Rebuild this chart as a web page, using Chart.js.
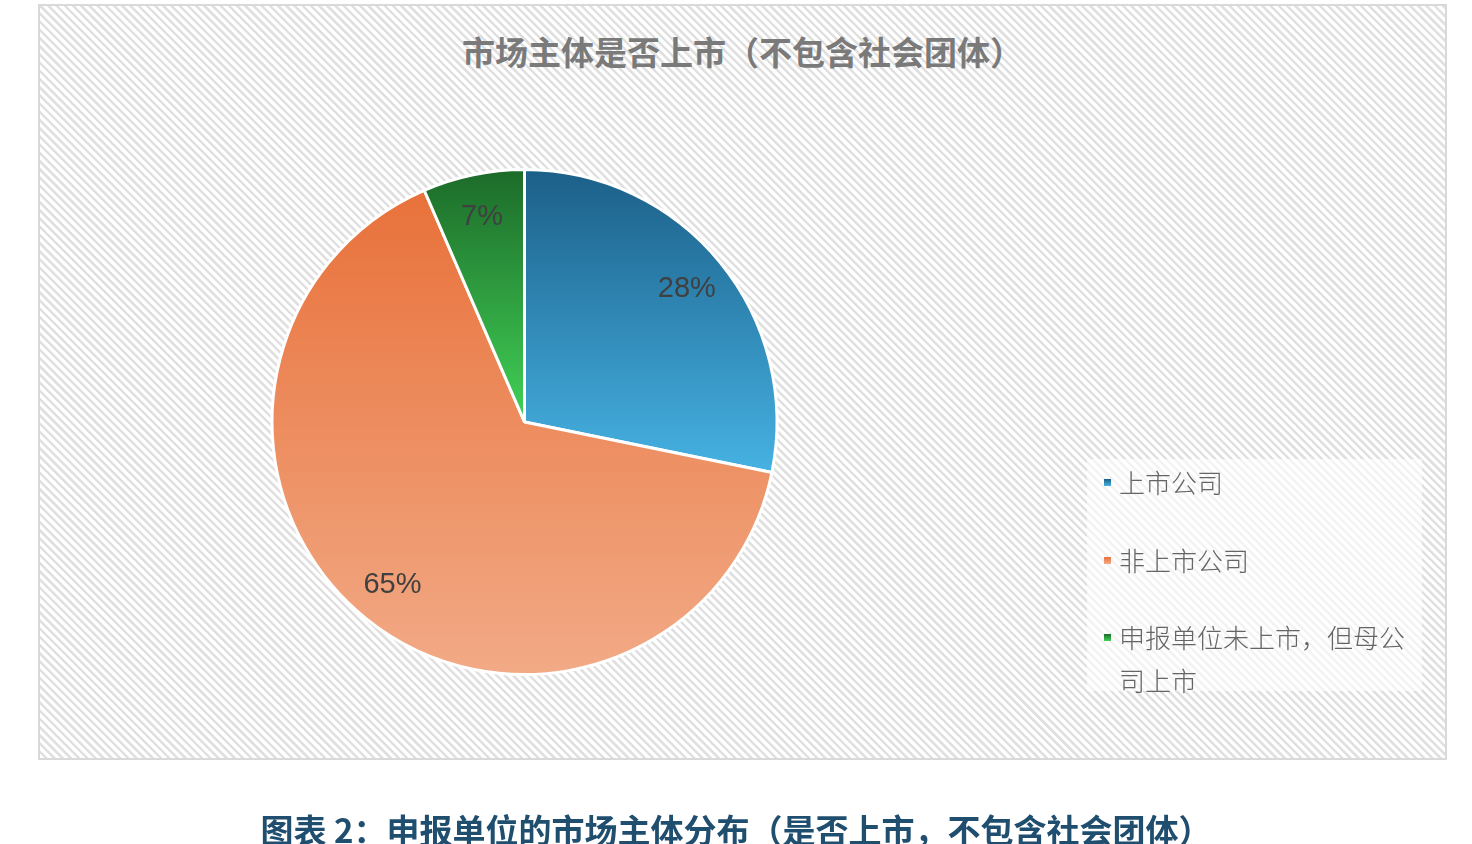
<!DOCTYPE html>
<html>
<head>
<meta charset="utf-8">
<script src="https://cdn.jsdelivr.net/npm/chart.js@4/dist/chart.umd.min.js"></script>
<style>
  html, body { margin: 0; padding: 0; background: #ffffff; width: 1472px; height: 844px; overflow: hidden; }
  #frame {
    position: absolute; left: 38px; top: 4px; width: 1405px; height: 752px;
    border: 2px solid #d9d9d9;
    background: repeating-linear-gradient(45deg, #ffffff 0px, #ffffff 2.8px, #e0e0e0 3.2px, #e0e0e0 5.3px, #ffffff 5.8px);
  }
  #title {
    position: absolute; left: 38px; width: 1409px; top: 28px; text-align: center;
    font-family: "Noto Sans CJK SC", sans-serif; font-weight: 700; font-size: 33px; color: #7a7a7a;
    line-height: 46px;
  }
  #chartWrap { position: absolute; left: 0; top: 0; width: 1472px; height: 844px; }
  #legend {
    position: absolute; left: 1087px; top: 459px; width: 335px; height: 232px;
    background: rgba(255,255,255,0.6);
    font-family: "Noto Sans CJK SC", sans-serif; font-size: 26px; color: #656565; font-weight: 300;
  }
  .item { position: absolute; left: 32px; width: 296px; line-height: 43px; }
  .mark { position: absolute; left: -15px; top: 19px; width: 7px; height: 7px; }
  #caption {
    position: absolute; left: 0; width: 1472px; top: 806px; text-align: center;
    font-family: "Noto Sans CJK SC", sans-serif; font-weight: 700; font-size: 33px; color: #1f4e6f;
    line-height: 46px;
  }
</style>
</head>
<body>
<div id="frame"></div>
<div id="title"></div>
<div id="chartWrap"><canvas id="c" width="1472" height="844"></canvas></div>
<div id="legend"></div>
<div id="caption"></div>
<script>
const chartTitle = "市场主体是否上市（不包含社会团体）";
const captionText = "图表 2：申报单位的市场主体分布（是否上市，不包含社会团体）";
const categories = ["上市公司", "非上市公司", "申报单位未上市，但母公司上市"];
const values = [28.2, 65.3, 6.5];
const topColors = ["#1b5f88", "#e8713a", "#1c6a29"];
const bottomColors = ["#46b2e3", "#f2aa86", "#41d156"];

document.getElementById('title').textContent = chartTitle;
document.getElementById('caption').textContent = captionText;

// legend (HTML)
const legendEl = document.getElementById('legend');
const legendTops = [1, 79, 156];
categories.forEach((name, i) => {
  const it = document.createElement('div');
  it.className = 'item';
  it.style.top = legendTops[i] + 'px';
  const mk = document.createElement('div');
  mk.className = 'mark';
  mk.style.background = 'linear-gradient(' + topColors[i] + ',' + bottomColors[i] + ')';
  it.appendChild(mk);
  it.appendChild(document.createTextNode(name));
  legendEl.appendChild(it);
});

function sliceGradient(ctx) {
  const chart = ctx.chart;
  const area = chart.chartArea;
  const i = ctx.dataIndex;
  if (!area) return topColors[i];
  const total = values.reduce((a, b) => a + b, 0);
  let cum = 0;
  for (let k = 0; k < i; k++) cum += values[k];
  const a0 = cum / total * 360, a1 = (cum + values[i]) / total * 360;
  const cy = (area.top + area.bottom) / 2;
  const R = Math.min(area.right - area.left, area.bottom - area.top) / 2;
  const ys = [0, -Math.cos(a0 * Math.PI / 180), -Math.cos(a1 * Math.PI / 180)];
  if (a0 <= 0.0001) ys.push(-1);
  if (a0 <= 180 && a1 >= 180) ys.push(1);
  if (a1 >= 359.999) ys.push(-1);
  const yTop = cy + R * Math.min(...ys);
  const yBot = cy + R * Math.max(...ys);
  const g = chart.ctx.createLinearGradient(0, yTop, 0, yBot);
  g.addColorStop(0, topColors[i]);
  g.addColorStop(1, bottomColors[i]);
  return g;
}

const labelPlugin = {
  id: 'pctLabels',
  afterDatasetsDraw(chart) {
    const meta = chart.getDatasetMeta(0);
    const c = chart.ctx;
    const total = values.reduce((a, b) => a + b, 0);
    c.save();
    c.font = '29px "Liberation Sans", Arial, sans-serif';
    c.fillStyle = '#404040';
    c.textAlign = 'center';
    c.textBaseline = 'middle';
    meta.data.forEach((arc, i) => {
      const mid = (arc.startAngle + arc.endAngle) / 2;
      const r = arc.outerRadius * 0.83;
      const x = arc.x + Math.cos(mid) * r;
      const y = arc.y + Math.sin(mid) * r;
      c.fillText(Math.round(values[i] / total * 100) + '%', x, y);
    });
    c.restore();
  }
};

new Chart(document.getElementById('c'), {
  type: 'pie',
  data: {
    labels: categories,
    datasets: [{
      data: values,
      backgroundColor: sliceGradient,
      borderColor: '#ffffff',
      borderWidth: 3
    }]
  },
  options: {
    responsive: false,
    animation: false,
    layout: { padding: { left: 270, right: 693, top: 168, bottom: 168 } },
    plugins: {
      legend: { display: false },
      tooltip: { enabled: false },
      title: { display: false }
    }
  },
  plugins: [labelPlugin]
});
</script>
</body>
</html>
